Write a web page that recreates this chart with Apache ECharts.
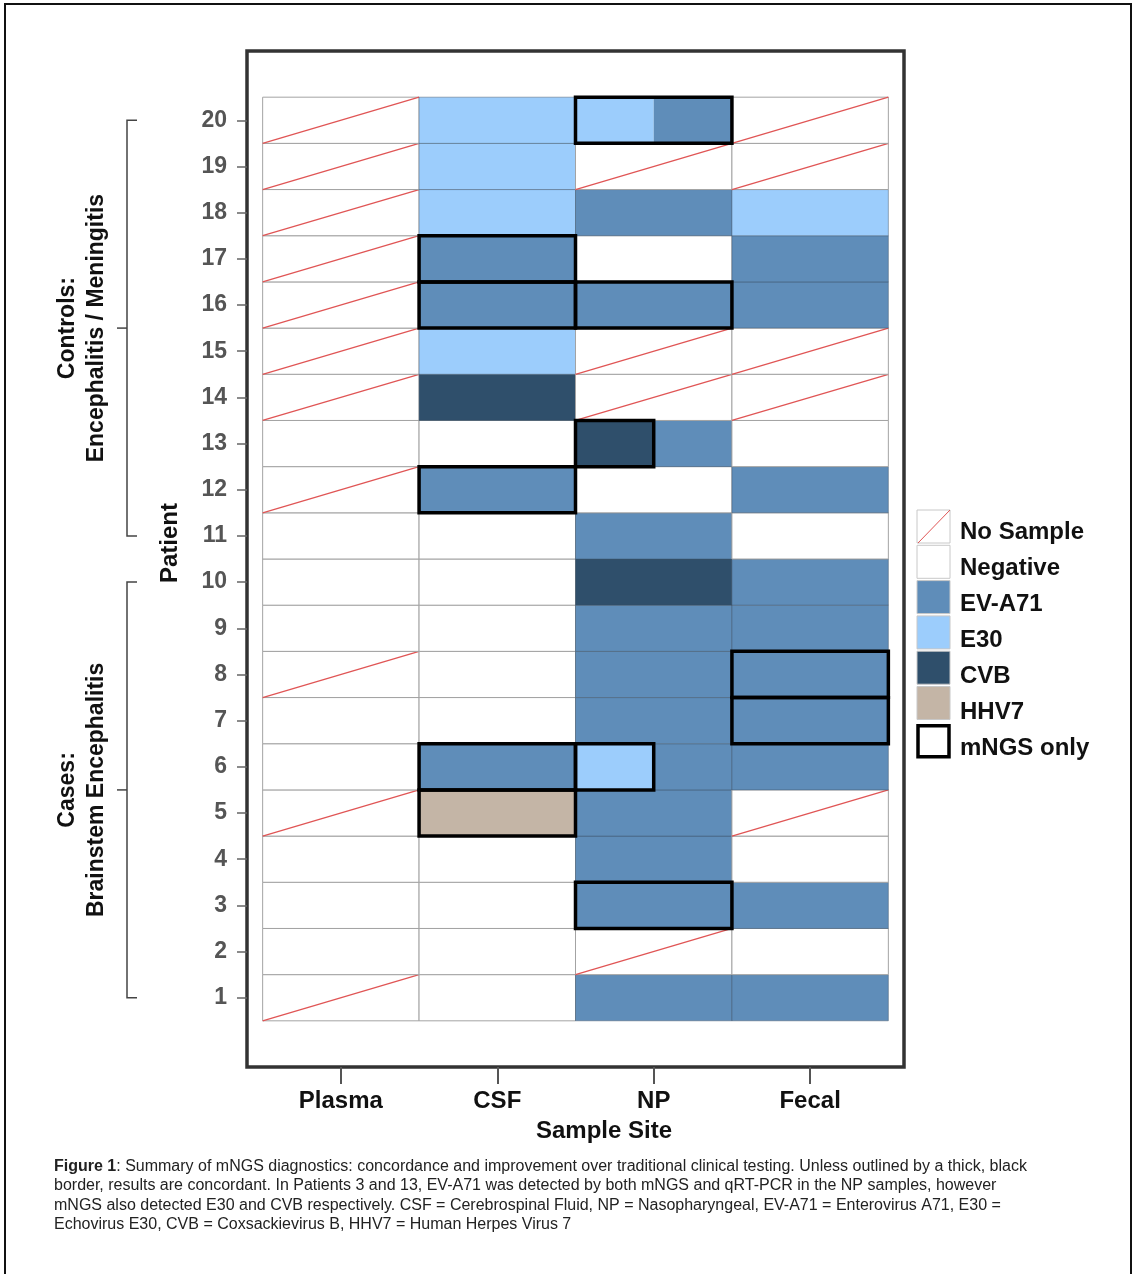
<!DOCTYPE html>
<html><head><meta charset="utf-8">
<script src="https://cdn.jsdelivr.net/npm/echarts@6/dist/echarts.min.js"></script>
<style>html,body{margin:0;padding:0;background:#fff}#c{width:1136px;height:1274px}</style>
</head><body><div id="c"></div>
<script>
// ---- data ----
const sites = ['Plasma', 'CSF', 'NP', 'Fecal'];
const patients = [1,2,3,4,5,6,7,8,9,10,11,12,13,14,15,16,17,18,19,20];
// results per patient 1..20 ; 'NS' = No Sample, 'A+B' = left half A, right half B
const plasma = ['NS','Negative','Negative','Negative','NS','Negative','Negative','NS','Negative','Negative','Negative','NS','Negative','NS','NS','NS','NS','NS','NS','NS'];
const csf    = ['Negative','Negative','Negative','Negative','HHV7','EV-A71','Negative','Negative','Negative','Negative','Negative','EV-A71','Negative','CVB','E30','EV-A71','EV-A71','E30','E30','E30'];
const np     = ['EV-A71','NS','EV-A71','EV-A71','EV-A71','E30+EV-A71','EV-A71','EV-A71','EV-A71','CVB','EV-A71','Negative','CVB+EV-A71','NS','NS','EV-A71','Negative','EV-A71','NS','E30+EV-A71'];
const fecal  = ['EV-A71','Negative','EV-A71','Negative','NS','EV-A71','EV-A71','EV-A71','EV-A71','EV-A71','Negative','EV-A71','Negative','NS','NS','EV-A71','EV-A71','E30','NS','NS'];
// mNGS-only detections: [patient, site, part]
const mngsOnly = [[20,'NP','full'],[17,'CSF','full'],[16,'CSF','full'],[16,'NP','full'],[13,'NP','left'],[12,'CSF','full'],[8,'Fecal','full'],[7,'Fecal','full'],[6,'CSF','full'],[6,'NP','left'],[5,'CSF','full'],[3,'NP','full']];
const legendItems = ['No Sample','Negative','EV-A71','E30','CVB','HHV7','mNGS only'];
const groups = [{label:['Controls:','Encephalitis / Meningitis'], from:11, to:20},{label:['Cases:','Brainstem Encephalitis'], from:1, to:10}];
const captionLines = [
 '{b|Figure 1}: Summary of mNGS diagnostics: concordance and improvement over traditional clinical testing. Unless outlined by a thick, black',
 'border, results are concordant. In Patients 3 and 13, EV-A71 was detected by both mNGS and qRT-PCR in the NP samples, however',
 'mNGS also detected E30 and CVB respectively. CSF = Cerebrospinal Fluid, NP = Nasopharyngeal, EV-A71 = Enterovirus A71, E30 =',
 'Echovirus E30, CVB = Coxsackievirus B, HHV7 = Human Herpes Virus 7'
];

// ---- styles ----
const FONT = "'Liberation Sans', Arial, sans-serif";
const colors = {'Negative':'#ffffff','EV-A71':'#5f8db9','E30':'#9ccdfc','CVB':'#2f4f6b','HHV7':'#c4b5a6','NS':'#ffffff'};
const RED = '#e05555';
const GRIDLINE = '#a3a3a3';

const siteCols = [plasma, csf, np, fecal];
const cells = [];
siteCols.forEach((col, s) => col.forEach((code, i) => cells.push({s: s, p: patients[i], code: code})));
const outlines = mngsOnly.map(m => ({s: sites.indexOf(m[1]), p: m[0], part: m[2]}));

function cellRect(api, s, p) {
  const tl = api.coord([s - 0.5, p + 0.5]);
  const br = api.coord([s + 0.5, p - 0.5]);
  return {x: tl[0], y: tl[1], w: br[0] - tl[0], h: br[1] - tl[1]};
}

function renderCell(params, api) {
  const c = cells[params.dataIndex];
  const r = cellRect(api, api.value(0), api.value(1));
  const ch = [];
  const parts = c.code.split('+');
  if (parts.length === 2) {
    ch.push({type:'rect', shape:{x:r.x, y:r.y, width:r.w/2, height:r.h}, style:{fill:colors[parts[0]]}});
    ch.push({type:'rect', shape:{x:r.x + r.w/2, y:r.y, width:r.w/2, height:r.h}, style:{fill:colors[parts[1]]}});
  } else {
    ch.push({type:'rect', shape:{x:r.x, y:r.y, width:r.w, height:r.h}, style:{fill:colors[c.code]}});
  }
  const strokeC = (c.code === 'Negative' || c.code === 'NS') ? GRIDLINE : 'rgba(60,80,100,0.45)';
  ch.push({type:'rect', shape:{x:r.x, y:r.y, width:r.w, height:r.h}, style:{fill:null, stroke:strokeC, lineWidth:1}});
  if (c.code === 'NS') {
    ch.push({type:'line', shape:{x1:r.x, y1:r.y + r.h, x2:r.x + r.w, y2:r.y}, style:{stroke:RED, lineWidth:1.3}});
  }
  return {type:'group', children: ch};
}

function renderOutline(params, api) {
  const o = outlines[params.dataIndex];
  const r = cellRect(api, api.value(0), api.value(1));
  const w = o.part === 'left' ? r.w / 2 : r.w;
  return {type:'rect', shape:{x:r.x, y:r.y, width:w, height:r.h}, style:{fill:null, stroke:'#000', lineWidth:3.5}};
}

const chart = echarts.init(document.getElementById('c'), null, {renderer:'canvas'});
const option = {
  animation: false,
  backgroundColor: '#fff',
  grid: {left: 247, top: 51, width: 657, height: 1016, show: true, borderColor: '#333', borderWidth: 3.5, backgroundColor: '#fff'},
  xAxis: {
    type: 'value', min: -0.6, max: 3.6,
    splitLine: {show: false}, axisLine: {show: false, onZero: false},
    axisTick: {show: true, inside: false, length: 17, customValues: [0,1,2,3], lineStyle: {color: '#555', width: 2}},
    axisLabel: {customValues: [0,1,2,3], formatter: v => sites[v], margin: 22, color: '#111', fontFamily: FONT, fontWeight: 'bold', fontSize: 24}
  },
  yAxis: {
    type: 'value', min: -0.5, max: 21.5,
    splitLine: {show: false}, axisLine: {show: false, onZero: false},
    axisTick: {show: true, inside: false, length: 10, customValues: patients, lineStyle: {color: '#666', width: 1.5}},
    axisLabel: {customValues: patients, formatter: v => String(v), margin: 20, color: '#555', fontFamily: FONT, fontWeight: 'bold', fontSize: 23}
  },
  series: [
    {type: 'custom', renderItem: renderCell, data: cells.map(c => [c.s, c.p]), z: 2, clip: false},
    {type: 'custom', renderItem: renderOutline, data: outlines.map(o => [o.s, o.p]), z: 3, clip: false}
  ]
};
chart.setOption(option);

// ---- annotations (graphic) ----
const g = [];
// outer figure border
g.push({type:'rect', shape:{x:5, y:4, width:1126, height:1290}, style:{fill:null, stroke:'#111', lineWidth:2}, z:100});
// axis names
g.push({type:'text', x:604, y:1131, style:{text:'Sample Site', font:"bold 24px " + FONT, fill:'#111', align:'center', verticalAlign:'middle'}});
g.push({type:'text', x:170, y:543, rotation:Math.PI/2, style:{text:'Patient', font:"bold 24px " + FONT, fill:'#111', align:'center', verticalAlign:'middle'}});
// group brackets
groups.forEach(gr => {
  const yTop = chart.convertToPixel({gridIndex:0}, [0, gr.to])[1];
  const yBot = chart.convertToPixel({gridIndex:0}, [0, gr.from])[1];
  const yMid = (yTop + yBot) / 2;
  const bx = 127;
  g.push({type:'polyline', shape:{points:[[bx+10, yTop],[bx, yTop],[bx, yBot],[bx+10, yBot]]}, style:{stroke:'#444', lineWidth:1.5, fill:null}});
  g.push({type:'line', shape:{x1:bx-10, y1:yMid, x2:bx, y2:yMid}, style:{stroke:'#444', lineWidth:1.5}});
  g.push({type:'text', x:68, y:yMid, rotation:Math.PI/2, style:{text:gr.label[0], font:"bold 23px " + FONT, fill:'#111', align:'center', verticalAlign:'middle'}});
  g.push({type:'text', x:97, y:yMid, rotation:Math.PI/2, style:{text:gr.label[1], font:"bold 23px " + FONT, fill:'#111', align:'center', verticalAlign:'middle'}});
});
// legend
const legFill = {'No Sample':'#fff','Negative':'#fff','EV-A71':colors['EV-A71'],'E30':colors['E30'],'CVB':colors['CVB'],'HHV7':colors['HHV7']};
legendItems.forEach((name, i) => {
  const by = 510 + i * 35.3 + (i === 6 ? 3 : 0);
  if (name === 'mNGS only') {
    g.push({type:'rect', shape:{x:918, y:by+1, width:31, height:31}, style:{fill:'#fff', stroke:'#000', lineWidth:3.5}});
  } else {
    g.push({type:'rect', shape:{x:917, y:by, width:33, height:33}, style:{fill:legFill[name], stroke:'#c8c8c8', lineWidth:1}});
    if (name === 'No Sample') g.push({type:'line', shape:{x1:918, y1:by+33, x2:950, y2:by}, style:{stroke:RED, lineWidth:1}});
  }
  g.push({type:'text', x:960, y:532 + i * 36, style:{text:name, font:"bold 24px " + FONT, fill:'#111', align:'left', verticalAlign:'middle'}});
});
// caption
g.push({type:'text', x:54, y:1157, style:{text:captionLines.join('\n'), font:"16px " + FONT, fontSize:16, fontFamily:FONT, fill:'#222', lineHeight:19.3, align:'left', verticalAlign:'top',
  rich:{b:{fontWeight:'bold', fontSize:16, fontFamily:FONT, fill:'#222', lineHeight:19.3}}}});
chart.setOption({graphic: g});
</script></body></html>
